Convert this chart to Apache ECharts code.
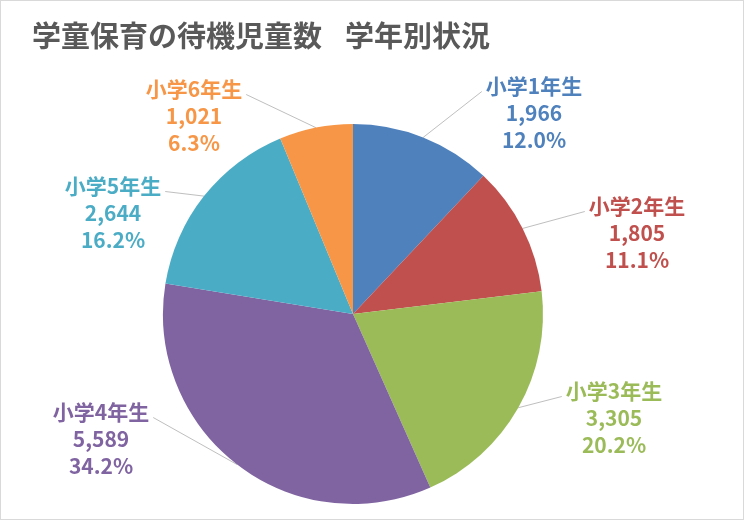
<!DOCTYPE html>
<html lang="ja">
  <head>
    <meta charset="UTF-8" />
    <script
      type="text/javascript"
      src="https://cdn.jsdelivr.net/npm/echarts@6/dist/echarts.min.js"
    ></script>
    <style>
      html,
      body {
        margin: 0;
        overflow: hidden;
        background: #fff;
      }
      #viewport {
        position: absolute;
        left: 0px;
        top: 0px;
        width: 744px;
        height: 520px;
        box-sizing: border-box;
        border: 1px solid #d9d9d9;
      }
    </style>
  </head>
  <body>
    <div id="viewport"></div>
    <script>
      // data
      var categories = ['小学1年生', '小学2年生', '小学3年生', '小学4年生', '小学5年生', '小学6年生'];
      var values = [1966, 1805, 3305, 5589, 2644, 1021];

      // excel-ish palette
      var colors = ['#4F81BD', '#C0504D', '#9BBB59', '#8064A2', '#4BACC6', '#F79646'];
      // where each label block sits (center of the text, px)
      var labelCenters = [[533, 112], [636, 232], [613, 417], [100, 438], [112, 212], [193, 115]];

      var pieCenter = [352, 313];
      var total = values.reduce(function (a, b) { return a + b; }, 0);

      var myChart = echarts.init(document.getElementById('viewport'));

      var titleStyle = {
        fontFamily: 'Noto Sans CJK JP',
        fontWeight: 'bold',
        fontSize: 29,
        color: '#595959'
      };

      var option = {
        animation: false,
        backgroundColor: '#fff',
        title: [
          { text: '学童保育の待機児童数', left: 26, top: 15, textStyle: titleStyle },
          { text: '学年別状況', left: 339, top: 15, textStyle: titleStyle }
        ],
        series: [
          {
            type: 'pie',
            center: pieCenter,
            radius: 190,
            startAngle: 90,
            clockwise: true,
            avoidLabelOverlap: false,
            data: categories.map(function (name, i) {
              return {
                name: name,
                value: values[i],
                itemStyle: { color: colors[i] },
                label: { color: colors[i] }
              };
            }),
            label: {
              show: true,
              position: 'outside',
              fontFamily: 'Noto Sans CJK JP',
              fontWeight: 'bold',
              fontSize: 21,
              lineHeight: 27,
              align: 'center',
              formatter: function (p) {
                return p.name + '\n' + p.value.toLocaleString('en-US') + '\n' +
                  (p.value / total * 100).toFixed(1) + '%';
              }
            },
            labelLine: {
              show: true,
              length: 30,
              length2: 0,
              lineStyle: { color: '#BFBFBF', width: 1 }
            },
            labelLayout: function (params) {
              var c = labelCenters[params.dataIndex];
              var rect = params.labelRect;
              var onRight = c[0] > pieCenter[0];
              // leader line ends beside the first text line, like excel does
              var endX = onRight ? c[0] - rect.width / 2 - 4 : c[0] + rect.width / 2 + 4;
              var endY = c[1] - rect.height / 2 + 19;
              var start = params.labelLinePoints ? params.labelLinePoints[0] : [endX, endY];
              return {
                x: c[0],
                y: c[1],
                align: 'center',
                verticalAlign: 'middle',
                labelLinePoints: [start, [endX, endY], [endX, endY]]
              };
            }
          }
        ]
      };

      myChart.setOption(option);
    </script>
  </body>
</html>
